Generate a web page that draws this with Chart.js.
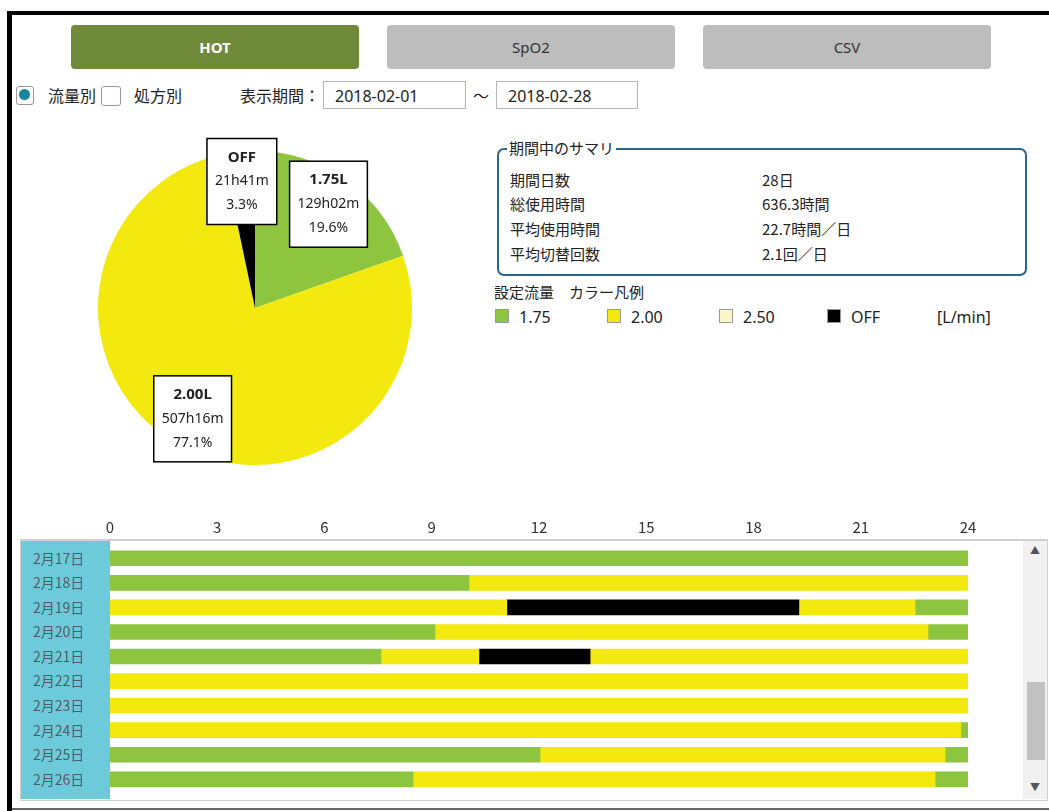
<!DOCTYPE html>
<html>
<head>
<meta charset="utf-8">
<script src="https://cdn.jsdelivr.net/npm/chart.js@4/dist/chart.umd.min.js"></script>
<style>
  body { margin: 0; width: 1049px; height: 811px; position: relative; overflow: hidden; background: #fff;
         font-family: "Noto Sans CJK JP", "Noto Sans", sans-serif; color: #222; }
  .abs { position: absolute; }
  .btn { position: absolute; top: 25px; width: 288px; height: 44px; border-radius: 4px; background: #bdbdbd;
         color: #333; font-size: 15px; text-align: center; line-height: 44px; font-family: "Noto Sans", sans-serif; }
  .inp { position: absolute; top: 81px; height: 28px; border: 1px solid #b5b5b5; font-size: 16px; line-height: 28px;
         padding-left: 11px; box-sizing: border-box; font-family: "Noto Sans", sans-serif; }
  .t15 { position: absolute; font-size: 15px; line-height: 20px; white-space: nowrap; }
  .sq { position: absolute; top: 309px; width: 12px; height: 12px; border: 1px solid #999; }
</style>
</head>
<body>
<!-- 外枠 -->
<div class="abs" style="left:7px;top:11px;width:1042px;height:800px;border-left:5px solid #000;border-top:4px solid #000;"></div>
<div class="abs" style="left:12px;top:808px;width:1037px;height:2px;background:#666;"></div>

<!-- タブボタン -->
<div class="btn" style="left:71px;background:#6f8b3a;color:#fff;font-weight:bold;">HOT</div>
<div class="btn" style="left:387px;">SpO2</div>
<div class="btn" style="left:703px;">CSV</div>

<!-- ラジオ・期間 -->
<div class="abs" style="left:16px;top:86px;width:16px;height:17px;border:1px solid #999;border-radius:3px;"></div>
<div class="abs" style="left:19px;top:89px;width:11px;height:11px;border-radius:50%;background:#17869c;"></div>
<div class="t15" style="left:48px;top:85px;font-size:16px;">流量別</div>
<div class="abs" style="left:101px;top:86px;width:18px;height:18px;border:1px solid #999;border-radius:3px;"></div>
<div class="t15" style="left:134px;top:85px;font-size:16px;">処方別</div>
<div class="t15" style="left:240px;top:85px;font-size:16px;">表示期間：</div>
<div class="inp" style="left:323px;width:143px;">2018-02-01</div>
<div class="t15" style="left:473px;top:85px;font-size:16px;">～</div>
<div class="inp" style="left:496px;width:142px;">2018-02-28</div>

<!-- サマリ -->
<div class="abs" style="left:497px;top:148px;width:530px;height:128px;border:2px solid #2b6592;border-radius:7px;box-sizing:border-box;"></div>
<div class="t15" style="left:507px;top:138px;background:#fff;padding:0 2px;">期間中のサマリ</div>
<div class="t15" style="left:510px;top:170px;">期間日数</div>
<div class="t15" style="left:762px;top:170px;" id="v1"></div>
<div class="t15" style="left:510px;top:194px;">総使用時間</div>
<div class="t15" style="left:762px;top:194px;" id="v2"></div>
<div class="t15" style="left:510px;top:219px;">平均使用時間</div>
<div class="t15" style="left:762px;top:219px;" id="v3"></div>
<div class="t15" style="left:510px;top:244px;">平均切替回数</div>
<div class="t15" style="left:762px;top:244px;" id="v4"></div>

<!-- 凡例 -->
<div class="t15" style="left:494px;top:282px;">設定流量　カラー凡例</div>
<div id="legend"></div>
<div class="t15" style="left:937px;top:307px;font-size:16px;font-family:'Noto Sans',sans-serif;">[L/min]</div>

<!-- 円グラフ -->
<div class="abs" style="left:55px;top:108px;width:400px;height:400px;"><canvas id="pie"></canvas></div>

<!-- タイムライン枠 -->
<div class="abs" style="left:20px;top:539px;width:1028px;height:262px;border:1px solid #d0d0d0;border-top:2px solid #d0d0d0;box-sizing:border-box;"></div>
<div class="abs" style="left:21px;top:541px;width:89px;height:258px;background:#6ccadb;"></div>
<div class="abs" style="left:1023px;top:541px;width:24px;height:258px;background:#f1f1f1;"></div>
<div class="abs" style="left:1027px;top:682px;width:18px;height:78px;background:#c1c1c1;"></div>
<div class="abs" style="left:1030px;top:542px;font-size:10px;color:#555;">▲</div>
<div class="abs" style="left:1030px;top:779px;font-size:10px;color:#555;">▼</div>
<div class="abs" style="left:20px;top:510px;width:1003px;height:290px;"><canvas id="bars"></canvas></div>

<script>
// 流量ごとの色
var flowNames = ["1.75", "2.00", "2.50", "OFF"];
var flowColors = ["#8dc53e", "#f3e90e", "#fbf6c8", "#000000"];
var legendX = [495, 607, 719, 827];

// 円グラフ（分）
var pieNames = ["1.75L", "2.00L", "OFF"];
var pieMinutes = [7742, 30436, 1301];
var pieColors = ["#8dc53e", "#f3e90e", "#000000"];

// サマリ
var summaryValues = ["28日", "636.3時間", "22.7時間／日", "2.1回／日"];

// タイムライン
var days = ["2月17日", "2月18日", "2月19日", "2月20日", "2月21日", "2月22日", "2月23日", "2月24日", "2月25日", "2月26日"];
var hourTicks = [0, 3, 6, 9, 12, 15, 18, 21, 24];
// 各日の切替時刻（時）
var switchTimes = [
  [0, 24],
  [0, 10.04, 24],
  [0, 11.1, 19.27, 22.52, 24],
  [0, 9.09, 22.88, 24],
  [0, 7.58, 10.32, 13.43, 24],
  [0, 24],
  [0, 24],
  [0, 23.8, 24],
  [0, 12.03, 23.36, 24],
  [0, 8.48, 23.08, 24]
];
// 各区間の流量
var segmentFlows = [
  ["1.75"],
  ["1.75", "2.00"],
  ["2.00", "OFF", "2.00", "1.75"],
  ["1.75", "2.00", "1.75"],
  ["1.75", "2.00", "OFF", "2.00"],
  ["2.00"],
  ["2.00"],
  ["2.00", "1.75"],
  ["1.75", "2.00", "1.75"],
  ["1.75", "2.00", "1.75"]
];

Chart.defaults.font.family = "'Noto Sans CJK JP', 'Noto Sans', sans-serif";
Chart.defaults.animation = false;

// サマリと凡例
summaryValues.forEach(function (v, i) { document.getElementById("v" + (i + 1)).textContent = v; });
var legendHtml = "";
flowNames.forEach(function (name, i) {
  legendHtml += '<div class="sq" style="left:' + legendX[i] + 'px;background:' + flowColors[i] + ';"></div>';
  legendHtml += '<div class="t15" style="left:' + (legendX[i] + 24) + 'px;top:307px;font-size:16px;font-family:\'Noto Sans\',sans-serif;">' + name + '</div>';
});
document.getElementById("legend").innerHTML = legendHtml;

function formatMinutes(m) {
  var h = Math.floor(m / 60);
  var mm = m % 60;
  return h + "h" + (mm < 10 ? "0" : "") + mm + "m";
}
var totalMinutes = pieMinutes.reduce(function (a, b) { return a + b; }, 0);

// 円グラフのラベル箱
var pieBoxes = {
  id: "pieBoxes",
  afterDatasetsDraw: function (chart) {
    var ctx = chart.ctx;
    var meta = chart.getDatasetMeta(0);
    meta.data.forEach(function (arc, i) {
      var p = arc.getProps(["x", "y", "startAngle", "endAngle", "outerRadius"], true);
      var mid = (p.startAngle + p.endAngle) / 2;
      var cx = p.x + Math.cos(mid) * p.outerRadius * 0.81;
      var cy = p.y + Math.sin(mid) * p.outerRadius * 0.81;
      var lines = [pieNames[i], formatMinutes(pieMinutes[i]),
                   (pieMinutes[i] / totalMinutes * 100).toFixed(1) + "%"];
      ctx.save();
      ctx.font = "14px 'Noto Sans', sans-serif";
      var w = 0;
      lines.forEach(function (t) { w = Math.max(w, ctx.measureText(t).width); });
      w += 16;
      var h = 86;
      ctx.fillStyle = "#fff";
      ctx.strokeStyle = "#000";
      ctx.lineWidth = 1.5;
      ctx.fillRect(cx - w / 2, cy - h / 2, w, h);
      ctx.strokeRect(cx - w / 2, cy - h / 2, w, h);
      ctx.fillStyle = "#222";
      ctx.textAlign = "center";
      ctx.textBaseline = "middle";
      lines.forEach(function (t, k) {
        ctx.font = (k === 0 ? "bold 15px" : "14px") + " 'Noto Sans', sans-serif";
        ctx.fillText(t, cx, cy + (k - 1) * 24);
      });
      ctx.restore();
    });
  }
};

new Chart(document.getElementById("pie"), {
  type: "pie",
  data: {
    labels: pieNames,
    datasets: [{ data: pieMinutes, backgroundColor: pieColors, borderWidth: 0 }]
  },
  options: {
    responsive: true,
    maintainAspectRatio: false,
    layout: { padding: 43 },
    plugins: { legend: { display: false }, tooltip: { enabled: false } }
  },
  plugins: [pieBoxes]
});

// タイムラインの区間データ
var maxSegments = 0;
segmentFlows.forEach(function (s) { maxSegments = Math.max(maxSegments, s.length); });
var barDatasets = [];
for (var k = 0; k < maxSegments; k++) {
  var data = [];
  var colors = [];
  for (var d = 0; d < days.length; d++) {
    if (k < segmentFlows[d].length) {
      data.push([switchTimes[d][k], switchTimes[d][k + 1]]);
      colors.push(flowColors[flowNames.indexOf(segmentFlows[d][k])]);
    } else {
      data.push(null);
      colors.push("transparent");
    }
  }
  barDatasets.push({
    data: data,
    backgroundColor: colors,
    borderWidth: 0,
    grouped: false,
    barThickness: 15
  });
}

new Chart(document.getElementById("bars"), {
  type: "bar",
  data: { labels: days, datasets: barDatasets },
  options: {
    indexAxis: "y",
    responsive: true,
    maintainAspectRatio: false,
    layout: { padding: { right: 55, bottom: 1, left: 13, top: 0 } },
    scales: {
      x: {
        position: "top",
        min: 0,
        max: 24,
        afterBuildTicks: function (s) { s.ticks = hourTicks.map(function (v) { return { value: v }; }); },
        afterFit: function (s) { s.height = 36; },
        grid: { display: false, drawTicks: false },
        border: { display: false },
        ticks: { color: "#333", font: { size: 15 }, padding: 10, maxRotation: 0 }
      },
      y: {
        afterFit: function (s) { s.width = 77; },
        grid: { display: false, drawTicks: false },
        border: { display: false },
        ticks: { color: "#505c61", font: { size: 14 }, padding: 0, crossAlign: "far" }
      }
    },
    plugins: { legend: { display: false }, tooltip: { enabled: false } }
  }
});
</script>
</body>
</html>
